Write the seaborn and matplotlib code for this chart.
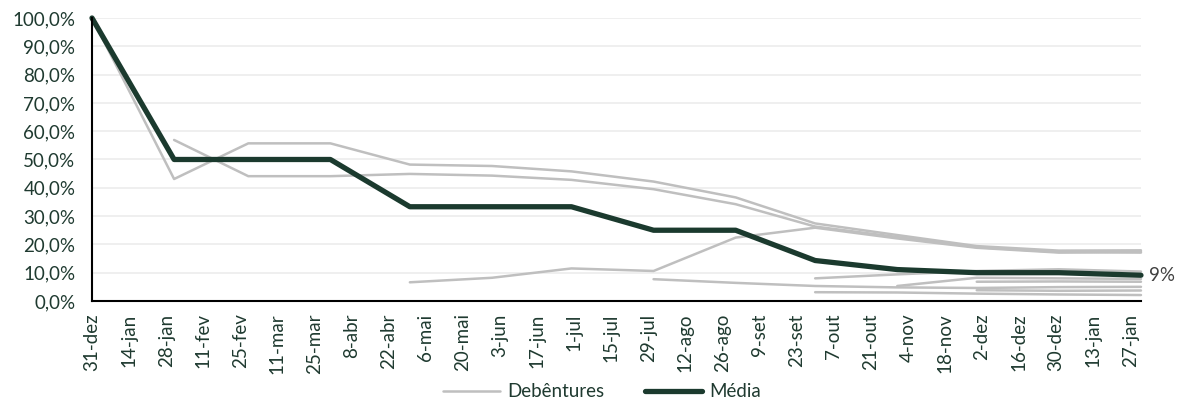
import numpy as np
import pandas as pd
import matplotlib
matplotlib.use("Agg")
import matplotlib.pyplot as plt
import matplotlib.dates as mdates
from matplotlib.ticker import FuncFormatter
import seaborn as sns

# ---------------- data ----------------
datas = ["2018-12-31", "2019-01-31", "2019-02-28", "2019-03-31", "2019-04-30",
         "2019-05-31", "2019-06-30", "2019-07-31", "2019-08-31", "2019-09-30",
         "2019-10-31", "2019-11-30", "2019-12-31", "2020-01-31"]
nan = np.nan
deb_a = [100, 43.1, 55.7, 55.7, 48.2, 47.7, 45.8, 42.2, 36.6, 27.4, 23.3, 19.4, 17.8, 17.9]
deb_b = [nan, 56.9, 44.1, 44.1, 44.9, 44.3, 42.8, 39.5, 34.2, 26.3, 22.6, 19.0, 17.3, 17.1]
deb_c = [nan, nan, nan, nan, 6.6, 8.2, 11.5, 10.6, 22.4, 25.9, 22.1, 18.8, 17.1, 17.4]
deb_d = [nan, nan, nan, nan, nan, nan, nan, 7.7, 6.4, 5.3, 4.8, 4.6, 4.9, 5.0]
deb_e = [nan, nan, nan, nan, nan, nan, nan, nan, nan, 8.0, 9.4, 10.6, 11.2, 10.4]
deb_f = [nan, nan, nan, nan, nan, nan, nan, nan, nan, nan, 5.3, 8.2, 8.0, 7.8]
deb_g = [nan, nan, nan, nan, nan, nan, nan, nan, nan, 3.1, 3.0, 2.6, 2.3, 2.1]
deb_i = [nan, nan, nan, nan, nan, nan, nan, nan, nan, nan, nan, 6.8, 6.9, 6.8]
deb_j = [nan, nan, nan, nan, nan, nan, nan, nan, nan, nan, nan, 3.8, 3.6, 3.7]
media = [100, 50, 50, 50, 33.3, 33.3, 33.3, 25, 25, 14.3, 11.1, 10, 10, 9.1]

series = {"A": deb_a, "B": deb_b, "C": deb_c, "D": deb_d, "E": deb_e,
          "F": deb_f, "G": deb_g, "I": deb_i, "J": deb_j}

legenda = ["Debêntures", "Média"]
rotulo_final = "9%"
tick_start = "2018-12-31"
tick_end = "2020-01-27"
meses = ["jan", "fev", "mar", "abr", "mai", "jun", "jul", "ago", "set", "out", "nov", "dez"]

# ---------------- frames ----------------
dt = pd.to_datetime(datas)
rows = []
for nome, vals in series.items():
    for d, v in zip(dt, vals):
        rows.append({"data": d, "valor": v, "serie": nome})
df_deb = pd.DataFrame(rows).dropna()
df_med = pd.DataFrame({"data": dt, "valor": media})

# ---------------- plot ----------------
sns.set_theme(style="white")
plt.rcParams["font.family"] = ["Lato", "DejaVu Sans"]
txt = "#1f3a30"
fs = 13.5

fig = plt.figure(figsize=(11.9, 4.08), dpi=100)
ax = fig.add_axes([0.0773, 0.2623, 0.8815, 0.6936])

sns.lineplot(data=df_deb, x="data", y="valor", units="serie", estimator=None,
             color="#bfbfbf", linewidth=1.8, ax=ax, legend=False)
n_gray = len(ax.lines)
sns.lineplot(data=df_med, x="data", y="valor", color="#1b3a2e", linewidth=3.8,
             ax=ax, legend=False, solid_capstyle="round")
for ln in ax.lines:
    ln.set_clip_on(False)
h_gray = ax.lines[0]
h_med = ax.lines[-1]

ax.set_xlim(pd.Timestamp(datas[0]), pd.Timestamp(datas[-1]))
ax.set_ylim(0, 100)
ax.set_yticks(np.arange(0, 101, 10))
ax.yaxis.set_major_formatter(FuncFormatter(lambda v, p: f"{v:.1f}%".replace(".", ",")))

ticks = pd.date_range(tick_start, tick_end, freq="14D")
ax.set_xticks(ticks)
ax.set_xticklabels([f"{t.day}-{meses[t.month - 1]}" for t in ticks], rotation=90)

ax.grid(axis="y", color="#ececec", linewidth=1.2)
ax.grid(axis="x", visible=False)
for s in ["top", "right"]:
    ax.spines[s].set_visible(False)
for s in ["left", "bottom"]:
    ax.spines[s].set_color("#000000")
    ax.spines[s].set_linewidth(1.5)
ax.tick_params(axis="both", direction="in", length=6, width=1.3, color="#000000",
               labelsize=fs, labelcolor=txt)
ax.tick_params(axis="y", pad=12)
ax.tick_params(axis="x", pad=9)
ax.set_xlabel("")
ax.set_ylabel("")

ax.annotate(rotulo_final, xy=(mdates.date2num(dt[-1]), media[-1]), xytext=(6, 0),
            textcoords="offset points", va="center", ha="left",
            fontsize=fs, color="#404040", annotation_clip=False)

fig.legend([h_gray, h_med], legenda, loc="center", bbox_to_anchor=(0.506, 0.04), ncol=2,
           frameon=False, fontsize=fs, handlelength=3.0, handletextpad=0.4,
           columnspacing=2.2, labelcolor=txt)

fig.savefig("out.png", dpi=100)
